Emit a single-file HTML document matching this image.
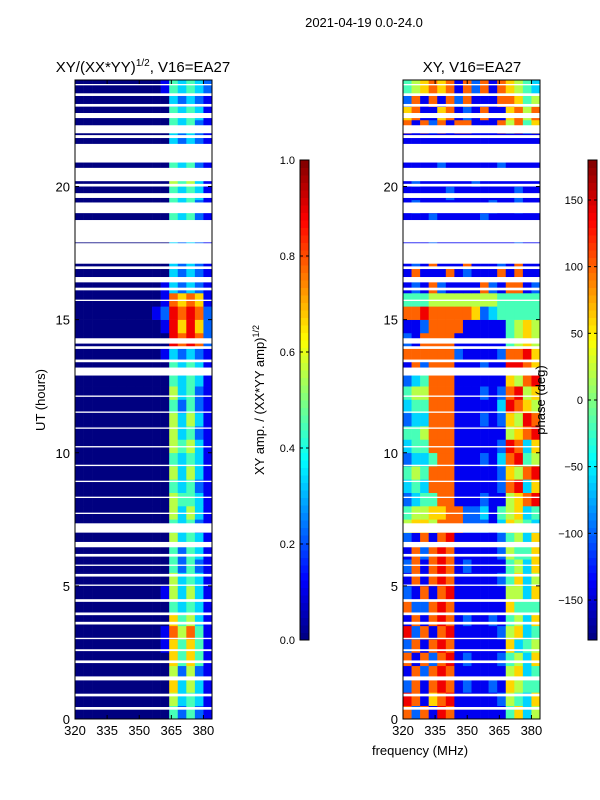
<!DOCTYPE html>
<html><head><meta charset="utf-8">
<style>
html,body{margin:0;padding:0;background:#fff;}
svg{display:block;font-family:"Liberation Sans",sans-serif;}
</style></head>
<body>
<svg id="fig" width="600" height="800" viewBox="0 0 600 800">
<rect width="600" height="800" fill="#fff"/>
<text x="364" y="27" font-size="13" text-anchor="middle">2021-04-19 0.0-24.0</text>
<text x="143" y="72" font-size="15" text-anchor="middle">XY/(XX*YY)<tspan font-size="10" dy="-6">1/2</tspan><tspan dy="6">, V16=EA27</tspan></text>
<text x="472" y="72" font-size="15" text-anchor="middle">XY, V16=EA27</text>
<g id="left"></g>
<g id="right"></g>
<g id="cbs"></g>
<text transform="translate(45,400) rotate(-90)" font-size="13" text-anchor="middle">UT (hours)</text>
<text x="420" y="755" font-size="13" text-anchor="middle">frequency (MHz)</text>
<text transform="translate(264,400) rotate(-90)" font-size="13" text-anchor="middle">XY amp. / (XX*YY amp)<tspan font-size="9" dy="-5">1/2</tspan></text>
<text transform="translate(545,400) rotate(-90)" font-size="13" text-anchor="middle">phase (deg)</text>
</svg>
<script>
// ---- data ----
const freqEdges = [320,324,328,332,336,340,344,348,352,356,360,364,368,372,376,380,384];
const hourStep = 0.5;
const xTicks = [320,335,350,365,380];
const yTicks = [0,5,10,15,20];
const ampTicks = [0.0,0.2,0.4,0.6,0.8,1.0];
const phaseTicks = [-150,-100,-50,0,50,100,150];
// amplitude rows (bottom=0h), each digit d -> value d/9
const ampRows = [
"0000000000042421","0000000000053431","0000000000063531","0000000000052521",
"0000000000064641","0000000000164641","0000000000175741","0000000000064531",
"0000000000043431","0000000000153531","0000000000053431","0000000000042421",
"0000000000042431","0000000000053431","0000000000043421","0000000000053531",
"0000000000054431","0000000000043421","0000000000053531","0000000000043431",
"0000000000054531","0000000000053421","0000000000053531","0000000000042421",
"0000000000053421","0000000000043431","0000000000043431","0000000000132321",
"0000000000087872","0000000000186862","0000000001287872","0000000000176761",
"0000000000132321","0000000000032321","0000000000032321","0000000000032321",
"0000000000032321","0000000000043421","0000000000043421","0000000000043431",
"0000000000054531","0000000000043421","0000000000032321","0000000000032321",
"0000000000043421","0000000000043431","0000000000032321","0000000000143432"];
// phase rows (bottom=0h), digit d -> phase -180+360*d/9
const phaseRows = [
"7271871111114635","8716781111125436","2717871211216544","1727871111115634",
"7172781211124536","2717871111116345","8271781111125634","1717871211214536",
"7227871111116444","2171781111115536","1717871111124635","2717871211114536",
"1727871111125446","2171781111124536","5665777222136543","4556677223145634",
"2344771112115678","3437771111127836","4547771111126578","2334771112137845",
"3447771111128736","4457771111115678","2337771112126587","3447771111138765",
"4557771112127856","2347771111116578","1727771112118876","7777772111127786",
"2177771111114565","1127777111114565","7787777762344444","4445555555544444",
"1217211117217712","1711171211171711","1217111711121711","1112111111111211",
"1111211111121111","1112111112111111","1211111111211211","1111121111111211",
"1211111121111111","1111211111121111","2171271211172714","1111111111111111",
"7172717711175746","6711671217116757","2717172711177645","4567671727176543"];
// flagged (white) hour intervals
const gapStart = [0.35,0.85,1.45,2.1,2.55,3.0,3.55,3.9,4.4,5.0,5.35,5.75,6.1,6.45,7.0,7.7,8.3,8.9,9.5,10.2,10.9,11.5,12.1,12.9,13.4,13.9,14.1,15.7,16.1,16.4,16.9,17.1,17.9,19.0,19.57,20.0,20.2,20.9,21.82,22.0,22.57,23.0,23.4,23.8];
const gapEnd   = [0.45,0.95,1.6,2.2,2.62,3.05,3.65,4.0,4.5,5.05,5.45,5.8,6.2,6.65,7.35,7.75,8.35,8.95,9.55,10.25,10.95,11.55,12.15,13.2,13.5,14.0,14.3,15.75,16.2,16.6,17.0,17.87,18.74,19.4,19.75,20.1,20.7,21.6,21.93,22.3,22.76,23.1,23.5,23.85];

// ---- helpers ----
const NS="http://www.w3.org/2000/svg";
function mk(tag,attrs,parent){const e=document.createElementNS(NS,tag);for(const k in attrs)e.setAttribute(k,attrs[k]);parent.appendChild(e);return e;}
function jet(v){v=Math.max(0,Math.min(1,v));
 const c=x=>Math.round(255*Math.max(0,Math.min(1,x)));
 const r=c(1.5-Math.abs(4*v-3)),g=c(1.5-Math.abs(4*v-2)),b=c(1.5-Math.abs(4*v-1));
 return `rgb(${r},${g},${b})`;}
const yTop=80,yBot=719;
function yScale(h){return yBot-(h/24)*(yBot-yTop);}
function makeX(x0,x1){return f=>x0+(f-320)/(384-320)*(x1-x0);}

function drawPanel(g,x0,x1,rows,toVal,prefix){
 const xs=makeX(x0,x1);
 rows.forEach((row,ri)=>{
  for(let ci=0;ci<row.length;ci++){
   const d=+row[ci];
   const xa=xs(freqEdges[ci]),xb=xs(freqEdges[ci+1]);
   const ya=yScale((ri+1)*hourStep),yb=yScale(ri*hourStep);
   const r=mk('rect',{x:xa,y:ya,width:xb-xa+0.3,height:yb-ya+0.3,fill:jet(toVal(d))},g);
   
   
  }
 });
 gapStart.forEach((s,i)=>{
  const r=mk('rect',{x:x0,y:yScale(gapEnd[i]),width:x1-x0,height:yScale(s)-yScale(gapEnd[i]),fill:'#fff'},g);
  
  
 });
 const fr=mk('rect',{x:x0,y:yTop,width:x1-x0,height:yBot-yTop,fill:'none',stroke:'#000','stroke-width':1},g);
 
 
 xTicks.forEach(t=>{
  const x=xs(t);
  mk('line',{x1:x,y1:yBot,x2:x,y2:yBot-4,stroke:'#000'},g);
  mk('line',{x1:x,y1:yTop,x2:x,y2:yTop+4,stroke:'#000'},g);
  const tx=mk('text',{x:x,y:yBot+16,'font-size':13,'text-anchor':'middle'},g);
  tx.textContent=t;
  
  
 });
 yTicks.forEach(t=>{
  const y=yScale(t);
  mk('line',{x1:x0,y1:y,x2:x0+4,y2:y,stroke:'#000'},g);
  mk('line',{x1:x1,y1:y,x2:x1-4,y2:y,stroke:'#000'},g);
  const tx=mk('text',{x:x0-5,y:y+5,'font-size':13,'text-anchor':'end'},g);
  tx.textContent=t;
  
  
 });
}
drawPanel(document.getElementById('left'),75,212,ampRows,d=>d/9,'amp');
drawPanel(document.getElementById('right'),403,540,phaseRows,d=>d/9,'phase');

function colorbar(x,w,vmin,vmax,ticks,name){
 const g=document.getElementById('cbs');
 const t0=160,t1=640,n=64;
 const cg=mk('g',{},g);
 
 
 for(let i=0;i<n;i++){
  const ya=t1-(i+1)*(t1-t0)/n;
  mk('rect',{x:x,y:ya,width:w,height:(t1-t0)/n+0.5,fill:jet((i+0.5)/n)},cg);
 }
 mk('rect',{x:x,y:t0,width:w,height:t1-t0,fill:'none',stroke:'#000'},cg);
 ticks.forEach(t=>{
  const y=t1-(t-vmin)/(vmax-vmin)*(t1-t0);
  mk('line',{x1:x,y1:y,x2:x+3,y2:y,stroke:'#000'},cg);
  mk('line',{x1:x+w,y1:y,x2:x+w-3,y2:y,stroke:'#000'},cg);
  const tx=mk('text',{x:x-5,y:y+4,'font-size':11,'text-anchor':'end'},cg);
  tx.textContent=(Math.abs(vmax-1)<1e-9)?t.toFixed(1):String(t).replace('-','\u2212');
  
  
 });
}
colorbar(300,9,0,1,ampTicks,'amp-colorbar');
colorbar(588,9,-180,180,phaseTicks,'phase-colorbar');
</script>
</body></html>
